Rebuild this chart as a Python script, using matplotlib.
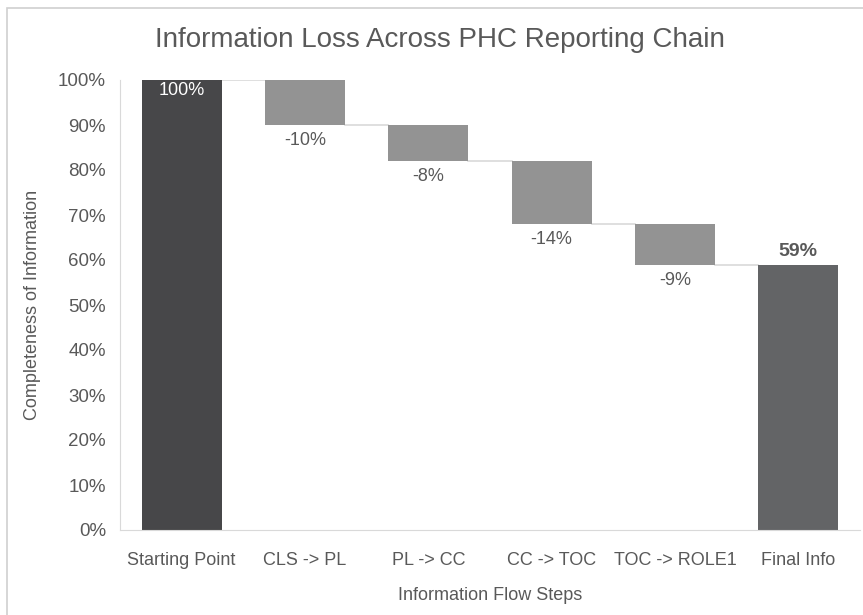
import numpy as np
import matplotlib.pyplot as plt
from matplotlib.patches import Rectangle

# 各ステップのデータ
steps = ["Starting Point", "CLS -> PL", "PL -> CC", "CC -> TOC", "TOC -> ROLE1", "Final Info"]
start_value = 100
changes = [-10, -8, -14, -9]
final_value = 59

plt.rcParams['font.family'] = ['Liberation Sans', 'DejaVu Sans']
txt = "#595959"

fig = plt.figure(figsize=(8.63, 6.15), dpi=100)
ax = fig.add_axes([120 / 863, 1 - 530 / 615, 740 / 863, 450 / 615])

# 外枠
fig.patches.append(Rectangle((7 / 863, -0.05), 1.1, 1 - 8 / 615 + 0.05,
                             transform=fig.transFigure, fill=False,
                             edgecolor="#d0d0d0", linewidth=1.2))

w = 0.65
x = np.arange(len(steps))

# 開始バー
ax.bar(x[0], start_value, width=w, color="#474749", zorder=2)
ax.text(x[0], start_value - 2.4, f"{start_value}%", ha="center", va="center",
        color="white", fontsize=13)

level = start_value
for i, c in enumerate(changes):
    xi = x[i + 1]
    new = level + c
    ax.bar(xi, c, bottom=level, width=w, color="#939393", zorder=2)
    ax.text(xi, new - 1.6, f"{c}%", ha="center", va="top", color=txt, fontsize=13)
    # 接続線
    ax.plot([x[i] + w / 2, xi - w / 2], [level, level], color="#d9d9d9", lw=1.2, zorder=1)
    level = new

ax.plot([x[4] + w / 2, x[5] - w / 2], [level, level], color="#d9d9d9", lw=1.2, zorder=1)
ax.bar(x[5], final_value, width=w, color="#636466", zorder=2)
ax.text(x[5], final_value + 1.0, f"{final_value}%", ha="center", va="bottom",
        color=txt, fontsize=14, fontweight="bold")

ax.set_xlim(-0.5, 5.5)
ax.set_ylim(0, 100)
ax.set_yticks(np.arange(0, 101, 10))
ax.set_yticklabels([f"{v}%" for v in range(0, 101, 10)])
ax.set_xticks(x)
ax.set_xticklabels(steps)
ax.tick_params(axis="y", length=0, pad=10, labelsize=13.5, labelcolor=txt)
ax.tick_params(axis="x", length=0, pad=16, labelsize=13, labelcolor=txt)

for s in ["top", "right"]:
    ax.spines[s].set_visible(False)
ax.spines["left"].set_color("#d9d9d9")
ax.spines["bottom"].set_color("#d9d9d9")

ax.set_xlabel("Information Flow Steps", fontsize=13, color=txt, labelpad=13)
ax.set_ylabel("Completeness of Information", fontsize=13, color=txt, labelpad=12)
fig.text(440 / 863, 1 - 40 / 615, "Information Loss Across PHC Reporting Chain",
         ha="center", va="center", fontsize=20, color=txt)

fig.savefig("out.png", dpi=100)
